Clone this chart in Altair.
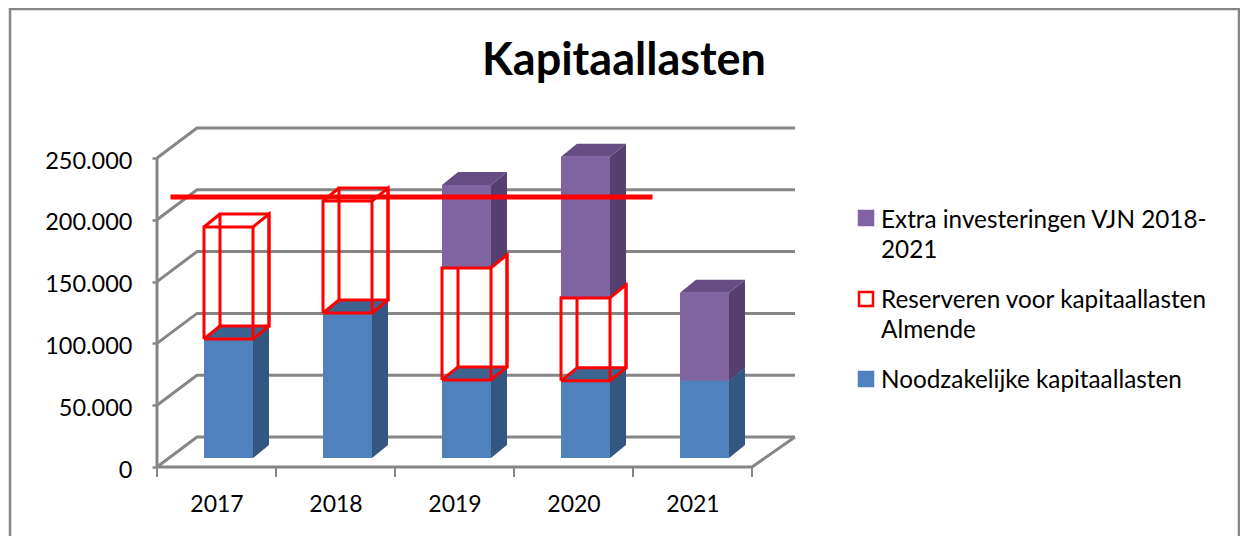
import altair as alt
import pandas as pd

years = [2017, 2018, 2019, 2020, 2021]
blue_vals = [96300, 117300, 63200, 62400, 62400]
red_vals = [90600, 90600, 90600, 67150, 0]
purple_vals = [0, 0, 67150, 114100, 71200]
y_ticks = [0, 50000, 100000, 150000, 200000, 250000]
legend_names = ["Extra investeringen VJN 2018-|2021", "Reserveren voor kapitaallasten|Almende", "Noodzakelijke kapitaallasten"]
title_text = "Kapitaallasten"

BLUE = ("#4F81BD", "#335780", "#3C6491")
PURPLE = ("#8064A2", "#553F6E", "#654C82")
RED = "#FF0000"
GRAY = "#868686"
FONT = "Lato"

# pixel geometry of the oblique projection, expressed in data units
PXX = 119.0
PXY = 0.001236
def X(px): return (px - 157) / PXX
def Y(py): return (467 - py) / PXY

W, H = 1232, 528
XDOM = [X(8), X(8 + W)]
YDOM = [Y(8 + H), Y(8)]
xs = alt.Scale(domain=XDOM, nice=False, zero=False)
ys = alt.Scale(domain=YDOM, nice=False, zero=False)

WALL_DX, WALL_DX_R, WALL_DY = 40 / PXX, 43 / PXX, 30 / PXY
BAR_L, BAR_R = 47 / PXX, 96 / PXX
BASE = 9 / PXY
DEPTH_X, DEPTH_Y = 16 / PXX, 13 / PXY

# walls
wall_rows = []
for v in y_ticks:
    pts = [(0, v), (WALL_DX, v + WALL_DY), (5 + WALL_DX_R, v + WALL_DY)]
    for k, (a, b) in enumerate(pts):
        wall_rows.append(dict(id=f"g{v}", k=k, x=a, y=b))
for k, (a, b) in enumerate([(0, 250000), (0, 0), (5, 0), (5 + WALL_DX_R, WALL_DY)]):
    wall_rows.append(dict(id="axis", k=k, x=a, y=b))

def prism_faces(i, lo, hi, cols, tag):
    l, r = i + BAR_L, i + BAR_R
    lo, hi = lo + BASE, hi + BASE
    out = []
    f = f"{tag}{i}"
    for x, y, y2 in [(l, lo, hi), (r, lo, hi)]:
        out.append(dict(face=f + "f", x=x, y=y, y2=y2, c=cols[0]))
    for x, y, y2 in [(r, lo, hi), (r + DEPTH_X, lo + DEPTH_Y, hi + DEPTH_Y)]:
        out.append(dict(face=f + "s", x=x, y=y, y2=y2, c=cols[1]))
    d = DEPTH_Y
    for x, y, y2 in [(l, hi, hi), (l + DEPTH_X, hi, hi + d), (r, hi, hi + d), (r + DEPTH_X, hi + d, hi + d)]:
        out.append(dict(face=f + "t", x=x, y=y, y2=y2, c=cols[2]))
    return out

blue_rows, purple_rows, back_rows, front_rows = [], [], [], []
for i in range(5):
    b, r, p = blue_vals[i], red_vals[i], purple_vals[i]
    blue_rows += prism_faces(i, 0, b, BLUE, "b")
    if p:
        purple_rows += prism_faces(i, b + r, b + r + p, PURPLE, "p")
    if r:
        l, rr = i + BAR_L, i + BAR_R
        lo, hi = b + BASE, b + r + BASE
        def poly(rows, name, pts):
            for k, (a, c) in enumerate(pts):
                rows.append(dict(id=f"{name}{i}", k=k, x=a, y=c))
        dx, dy = DEPTH_X, DEPTH_Y
        poly(back_rows, "back", [(l + dx, lo + dy), (rr + dx, lo + dy), (rr + dx, hi + dy), (l + dx, hi + dy), (l + dx, lo + dy)])
        poly(back_rows, "left", [(l, hi), (l + dx, hi + dy)])
        poly(back_rows, "leftb", [(l, lo), (l + dx, lo + dy)])
        poly(front_rows, "front", [(l, lo), (rr, lo), (rr, hi), (l, hi), (l, lo)])
        poly(front_rows, "side", [(rr, lo), (rr + dx, lo + dy), (rr + dx, hi + dy), (rr, hi)])

frame_rows = [dict(id="frame", k=k, x=X(a), y=Y(c)) for k, (a, c) in
              enumerate([(10, 536), (10, 9), (1239, 9), (1239, 536)])]
target_rows = [dict(id="target", k=0, x=X(170.5), y=Y(197)), dict(id="target", k=1, x=X(652.5), y=Y(197))]

legend_df = pd.DataFrame(dict(
    name=legend_names,
    sx=[X(866)] * 3,
    tx=[X(881)] * 3,
    sy=[Y(218), Y(299), Y(379)],
    ty=[Y(228), Y(308), Y(388)],
    fill=[PURPLE[0], "#FFFFFF", BLUE[0]],
    stroke=[PURPLE[0], RED, BLUE[0]],
))

def lines(rows, color, width):
    return alt.Chart(pd.DataFrame(rows)).mark_line(color=color, strokeWidth=width, interpolate="linear",
                                                   clip=False, strokeJoin="miter").encode(
        x=alt.X("x:Q", scale=xs),
        y=alt.Y("y:Q", scale=ys),
        detail="id:N",
        order="k:Q",
    )

def faces(rows):
    return alt.Chart(pd.DataFrame(rows)).mark_area(interpolate="linear").encode(
        x=alt.X("x:Q", scale=xs),
        y=alt.Y("y:Q", scale=ys, stack=None),
        y2="y2:Q",
        fill=alt.Fill("c:N", scale=None),
        detail="face:N",
    )

# axes: carried by a layer of invisible marks
axes = alt.Chart(pd.DataFrame(dict(x=[i + 0.5 for i in range(5)], y=[0] * 5))).mark_point(opacity=0).encode(
    x=alt.X("x:Q", scale=xs, title=None, axis=alt.Axis(
        values=[i + 0.5 for i in range(5)], grid=False, domain=False, ticks=False, orient="bottom",
        offset=-69, labelPadding=26, labelFont=FONT, labelFontSize=23, labelColor="#000000",
        labelExpr=f"{years}[floor(datum.value)]")),
    y=alt.Y("y:Q", scale=ys, title=None, axis=alt.Axis(
        values=y_ticks, grid=False, domain=False, orient="left", offset=-149,
        tickSize=5, tickWidth=2.5, tickColor=GRAY, labelPadding=20, labelOffset=3,
        labelFont=FONT, labelFontSize=23.5, labelColor="#000000",
        labelExpr="replace(format(datum.value, ','), ',', '.')")),
)

x_ticks = alt.Chart(pd.DataFrame(dict(x=list(range(6))))).mark_rule(color=GRAY, strokeWidth=2).transform_calculate(
    y0="0", y1=str(-10 / PXY)).encode(
    x=alt.X("x:Q", scale=xs),
    y=alt.Y("y0:Q", scale=ys),
    y2="y1:Q",
)

leg_sym = alt.Chart(legend_df).mark_point(shape="square", filled=True, size=196, strokeWidth=2.5, opacity=1).encode(
    x=alt.X("sx:Q", scale=xs),
    y=alt.Y("sy:Q", scale=ys),
    fill=alt.Fill("fill:N", scale=None),
    stroke=alt.Stroke("stroke:N", scale=None),
)
leg_txt = alt.Chart(legend_df).mark_text(align="left", baseline="alphabetic", font=FONT, fontSize=24.3,
                                         lineBreak="|", lineHeight=30, color="#000000").encode(
    x=alt.X("tx:Q", scale=xs),
    y=alt.Y("ty:Q", scale=ys),
    text="name:N",
)

chart = alt.layer(
    axes,
    lines(frame_rows, GRAY, 2.5),
    lines(wall_rows, GRAY, 3),
    x_ticks,
    faces(blue_rows),
    lines(back_rows, RED, 3),
    faces(purple_rows),
    lines(front_rows, RED, 3),
    lines(target_rows, RED, 5),
    leg_sym,
    leg_txt,
).properties(
    width=W, height=H, padding={"left": 0, "right": 0, "top": 0, "bottom": 0}, background="#FFFFFF",
    autosize=alt.AutoSizeParams(type="none", contains="padding"),
    title=alt.TitleParams(title_text, font=FONT, fontSize=45, fontWeight="bold", color="#000000",
                          anchor="middle", offset=-80),
).configure_view(stroke=None)

chart.save("out.html", embed_options={"renderer": "svg", "actions": False})
